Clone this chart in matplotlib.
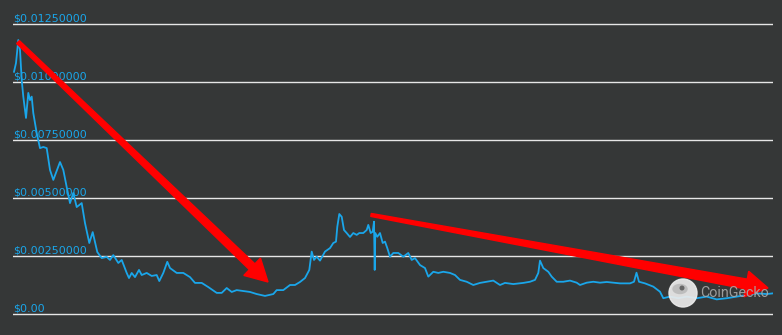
import numpy as np
import matplotlib
matplotlib.use('Agg')
import matplotlib.pyplot as plt
from matplotlib.patches import Polygon, Circle, Ellipse
from matplotlib.transforms import IdentityTransform, blended_transform_factory

# dados (dia, preço em milésimos de dólar)
dias = [1, 3, 5.3, 7, 8.7, 10.3, 13, 15.3, 17, 18.7, 20.3, 23.7, 27, 30.3, 33.7, 37, 40.3,
        47, 50.3, 53.7, 57, 60.3, 63.7, 68.7, 72, 76.3, 79.7, 84.3, 88.7, 93.7, 97, 100.3,
        105.3, 108.7, 113.7, 116, 118.7, 122, 126, 128.7, 133.7, 138.7, 143.7, 146.3, 150.3,
        154.3, 157, 163.7, 170.3, 177, 182, 188.7, 195.3, 203.7, 208.7, 213.7, 218.7, 223.7,
        230.3, 237, 243.7, 252, 260.3, 263.7, 270.3, 277, 282, 287, 292, 296.3, 298.7, 301,
        303.7, 307, 312, 317, 320.3, 323, 324.3, 326.3, 328.7, 331, 333.7, 337, 340.3, 343.7,
        346.3, 350.3, 353.7, 355.3, 357.7, 359.7, 361, 361.7, 362.3, 364.3, 367, 369.7, 372,
        374.3, 377, 380.3, 385.3, 390.3, 395.3, 398.7, 402, 407, 412, 415.3, 420.3, 425.3,
        430.3, 437, 442, 447, 453.7, 460.3, 467, 473.7, 480.3, 487, 492, 500.3, 510.3, 517,
        522, 525.3, 527, 530.3, 535.3, 538.7, 543.7, 550.3, 557, 563.7, 567, 573.7, 580.3,
        587, 593.7, 600.3, 607, 617, 621, 623.5, 626, 632, 640.3, 647, 650.3, 657, 665.3,
        673.7, 683.7, 693.7, 703.7, 713.7, 723.7, 733.7, 743.7, 753.7, 760]
preco_milesimos = [10.44, 10.82, 11.81, 11.38, 10.09, 9.37, 8.45, 9.53, 9.22, 9.37, 8.66,
                   7.80, 7.15, 7.20, 7.15, 6.21, 5.78, 6.55, 6.21, 5.47, 4.78, 5.22, 4.61,
                   4.78, 3.92, 3.06, 3.53, 2.67, 2.41, 2.46, 2.33, 2.54, 2.20, 2.33, 1.77,
                   1.55, 1.77, 1.59, 1.90, 1.68, 1.77, 1.64, 1.68, 1.42, 1.77, 2.25, 1.98,
                   1.77, 1.77, 1.59, 1.34, 1.34, 1.16, 0.91, 0.91, 1.12, 0.95, 1.03, 0.99,
                   0.95, 0.86, 0.78, 0.86, 1.03, 1.03, 1.25, 1.25, 1.38, 1.55, 1.90, 2.69,
                   2.33, 2.47, 2.30, 2.69, 2.84, 3.06, 3.12, 3.76, 4.31, 4.19, 3.62, 3.49,
                   3.32, 3.49, 3.41, 3.49, 3.49, 3.62, 3.84, 3.49, 3.55, 3.98, 1.90, 3.49,
                   3.33, 3.49, 3.06, 3.12, 2.84, 2.47, 2.63, 2.63, 2.47, 2.63, 2.33, 2.41,
                   2.11, 1.98, 1.61, 1.82, 1.77, 1.82, 1.77, 1.68, 1.47, 1.39, 1.25, 1.34,
                   1.39, 1.44, 1.25, 1.34, 1.29, 1.34, 1.39, 1.47, 1.77, 2.30, 1.98, 1.82,
                   1.61, 1.39, 1.39, 1.44, 1.35, 1.25, 1.35, 1.39, 1.35, 1.38, 1.35, 1.32,
                   1.32, 1.39, 1.78, 1.39, 1.32, 1.18, 0.96, 0.68, 0.75, 0.68, 0.75, 0.68,
                   0.75, 0.63, 0.68, 0.75, 0.82, 0.89, 0.86, 0.89]
precos = np.array(preco_milesimos) / 1000

ticks = [0, 0.0025, 0.005, 0.0075, 0.01, 0.0125]
rotulos = ['$0.00', '$0.00250000', '$0.00500000', '$0.00750000', '$0.01000000', '$0.01250000']

# setas vermelhas (início e fim em dia / preço)
seta1 = ((5, 0.01172), (255, 0.00138))
seta2 = ((358, 0.00427), (755, 0.00112))

fundo = '#353737'
azul = '#1aa6ea'

fig = plt.figure(figsize=(7.82, 3.35), dpi=100, facecolor=fundo)
ax = fig.add_axes([13 / 782, 0, 760 / 782, 1])
ax.set_facecolor(fundo)
ax.set_xlim(0, 760)
ax.set_ylim(-21 / 23200, 314 / 23200)
for s in ax.spines.values():
    s.set_visible(False)

ax.set_yticks(ticks)
ax.set_xticks([])
ax.yaxis.grid(True, color='#e6e6e6', linewidth=1.0)
ax.set_axisbelow(True)
ax.tick_params(length=0, labelleft=False)

trans = blended_transform_factory(ax.transAxes, ax.transData)
for v, lab in zip(ticks, rotulos):
    ax.annotate(lab.replace('$', r'\$'), (0, v), xycoords=trans, xytext=(0, 1.8),
                textcoords='offset points', va='baseline', ha='left',
                fontsize=8, color=azul)

ax.plot(dias, precos, color=azul, linewidth=1.3, zorder=3)


def seta(inicio, fim, w0, w1, hw, hl):
    # monta a seta em pixels para ficar com largura fixa
    p0 = ax.transData.transform(inicio)
    p1 = ax.transData.transform(fim)
    d = p1 - p0
    u = d / np.hypot(*d)
    n = np.array([-u[1], u[0]])
    base = p1 - u * hl
    pts = [p0 + n * w0 / 2, base + n * w1 / 2, base + n * hw / 2, p1,
           base - n * hw / 2, base - n * w1 / 2, p0 - n * w0 / 2]
    fig.patches.append(Polygon(pts, closed=True, color='#ff0000', transform=IdentityTransform(),
                               zorder=5, figure=fig))


seta(seta1[0], seta1[1], 4, 8, 24, 22)
seta(seta2[0], seta2[1], 3, 10, 26, 22)

# marca d'água CoinGecko
fig.patches.append(Circle((683, 335 - 293), 14, color='#ececec', alpha=0.92,
                          transform=IdentityTransform(), zorder=6, figure=fig))
fig.patches.append(Ellipse((680, 335 - 289), 14, 9, color='#bdbdbd',
                           transform=IdentityTransform(), zorder=7, figure=fig))
fig.patches.append(Circle((682, 335 - 288), 1.8, color='#666666',
                          transform=IdentityTransform(), zorder=8, figure=fig))
fig.text(700 / 782, 1 - 293 / 335, 'CoinGecko', fontsize=10.3, family='Roboto',
         color='#a8a8a8', alpha=0.9, va='center', ha='left', zorder=9)

fig.savefig('out.png', dpi=100, facecolor=fundo)
